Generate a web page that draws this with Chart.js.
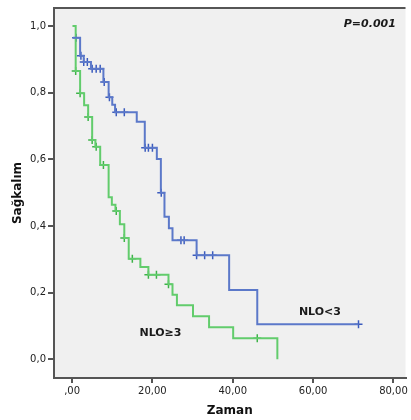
<!DOCTYPE html>
<html>
<head>
<meta charset="utf-8">
<script src="https://cdn.jsdelivr.net/npm/chart.js@4.4.1/dist/chart.umd.min.js"></script>
<style>
  html, body { margin: 0; padding: 0; background: #fff; }
  #wrap { width: 411px; height: 420px; }
</style>
</head>
<body>
<div id="wrap"><canvas id="km"></canvas></div>
<script>
// NLO<3 : olay zamanlari ve sagkalim
const lowTimes = [0.2, 2.0, 2.9, 4.7, 7.8, 9.1, 10.0, 10.7, 16.1, 18.1, 21.1, 22.1, 23.0, 24.1, 25.0, 31.0, 39.1, 46.1, 71.3];
const lowSurv  = [0.965, 0.911, 0.892, 0.872, 0.832, 0.786, 0.764, 0.741, 0.713, 0.635, 0.601, 0.500, 0.428, 0.393, 0.357, 0.312, 0.208, 0.105, 0.105];
const lowCens  = [1.0, 2.2, 2.9, 3.8, 5.0, 6.0, 7.0, 8.0, 9.3, 11.0, 13.0, 18.2, 19.0, 20.0, 22.2, 27.1, 27.9, 31.0, 33.0, 35.0, 71.3];

// NLO>=3
const highTimes = [0.1, 0.9, 2.0, 3.0, 4.0, 5.0, 5.8, 7.0, 9.1, 9.9, 10.8, 11.9, 13.0, 14.1, 17.0, 19.0, 24.0, 25.0, 26.1, 30.1, 34.1, 40.1, 51.1];
const highSurv  = [1.0, 0.865, 0.798, 0.762, 0.727, 0.658, 0.638, 0.583, 0.486, 0.464, 0.445, 0.405, 0.364, 0.302, 0.277, 0.254, 0.225, 0.194, 0.162, 0.129, 0.096, 0.063, 0.0];
const highCens  = [0.9, 2.0, 4.0, 5.0, 6.0, 7.8, 11.0, 13.0, 15.0, 19.0, 21.0, 24.0, 46.1];

const xTicks = [0, 20, 40, 60, 80];
const yTicks = [0, 0.2, 0.4, 0.6, 0.8, 1.0];

const blue = '#5b78c9';
const blueDark = '#3b5bbd';
const green = '#62cc6c';
const greenDark = '#3db348';
const axisCol = '#555555';

function toPts(ts, ss) {
    return ts.map((t, i) => ({x: t, y: ss[i]}));
}

// step value of the curve at a censor time
function survAt(ts, ss, t) {
    let v = ss[0];
    for (let i = 0; i < ts.length; i++) {
        if (ts[i] <= t + 0.05) v = ss[i];
    }
    return v;
}

function censPts(cs, ts, ss) {
    return cs.map(t => ({x: t, y: survAt(ts, ss, t)}));
}

const frame = {
    id: 'frame',
    beforeDraw(chart) {
        const {ctx, chartArea: a} = chart;
        ctx.save();
        ctx.fillStyle = '#f0f0f0';
        ctx.fillRect(a.left, a.top, a.right - a.left, a.bottom - a.top);
        ctx.restore();
    },
    afterDraw(chart) {
        const {ctx, chartArea: a} = chart;
        const x = chart.scales.x, y = chart.scales.y;
        ctx.save();
        ctx.strokeStyle = axisCol;
        ctx.lineWidth = 2;
        ctx.beginPath();
        ctx.moveTo(a.left - 1, a.top);
        ctx.lineTo(a.right, a.top);
        ctx.stroke();

        ctx.fillStyle = '#1a1a1a';
        ctx.textBaseline = 'middle';
        ctx.font = 'bold italic 11px "DejaVu Sans"';
        ctx.textAlign = 'right';
        ctx.fillText('P=0.001', x.getPixelForValue(80.6), y.getPixelForValue(1.006));
        ctx.font = 'bold 11px "DejaVu Sans"';
        ctx.textAlign = 'center';
        ctx.fillText('NLO<3', x.getPixelForValue(61.7), y.getPixelForValue(0.142));
        ctx.fillText('NLO\u22653', x.getPixelForValue(22.0), y.getPixelForValue(0.079));
        ctx.restore();
    }
};

new Chart(document.getElementById('km'), {
    type: 'scatter',
    data: {
        datasets: [
            {
                data: toPts(lowTimes, lowSurv),
                showLine: true,
                stepped: true,
                borderColor: blue,
                borderWidth: 2,
                pointRadius: 0
            },
            {
                data: toPts(highTimes, highSurv),
                showLine: true,
                stepped: true,
                borderColor: green,
                borderWidth: 2,
                pointRadius: 0
            },
            {
                data: censPts(lowCens, lowTimes, lowSurv),
                pointStyle: 'cross',
                pointRadius: 4,
                borderWidth: 1.5,
                borderColor: blueDark
            },
            {
                data: censPts(highCens, highTimes, highSurv),
                pointStyle: 'cross',
                pointRadius: 4,
                borderWidth: 1.5,
                borderColor: greenDark
            }
        ]
    },
    options: {
        responsive: true,
        maintainAspectRatio: false,
        animation: false,
        layout: { padding: { top: 8, right: 0, left: 0, bottom: 0 } },
        plugins: {
            legend: { display: false },
            tooltip: { enabled: false }
        },
        scales: {
            x: {
                type: 'linear',
                min: -4.5,
                max: 83,
                afterBuildTicks: s => { s.ticks = xTicks.map(v => ({value: v})); },
                afterFit: s => { s.height = 42; },
                grid: { drawOnChartArea: false, drawTicks: true, tickLength: 5, color: axisCol, lineWidth: 2 },
                border: { display: true, color: axisCol, width: 2 },
                ticks: {
                    padding: 2,
                    color: '#222',
                    font: { family: 'DejaVu Sans', size: 10 },
                    callback: v => v === 0 ? ',00' : v.toFixed(2).replace('.', ',')
                },
                title: {
                    display: true,
                    text: 'Zaman',
                    color: '#111',
                    font: { family: 'DejaVu Sans', size: 12, weight: 'bold' },
                    padding: { top: 0, bottom: 2 }
                }
            },
            y: {
                type: 'linear',
                min: -0.056,
                max: 1.054,
                afterBuildTicks: s => { s.ticks = yTicks.map(v => ({value: v})); },
                afterFit: s => { s.width = 54; },
                grid: { drawOnChartArea: false, drawTicks: true, tickLength: 6, color: axisCol, lineWidth: 2 },
                border: { display: true, color: axisCol, width: 2 },
                ticks: {
                    padding: 2,
                    color: '#222',
                    font: { family: 'DejaVu Sans', size: 10 },
                    callback: v => v.toFixed(1).replace('.', ',')
                },
                title: {
                    display: true,
                    text: 'Sağkalım',
                    color: '#111',
                    font: { family: 'DejaVu Sans', size: 12, weight: 'bold' },
                    padding: { top: 11, bottom: 0 }
                }
            }
        }
    },
    plugins: [frame]
});
</script>
</body>
</html>
